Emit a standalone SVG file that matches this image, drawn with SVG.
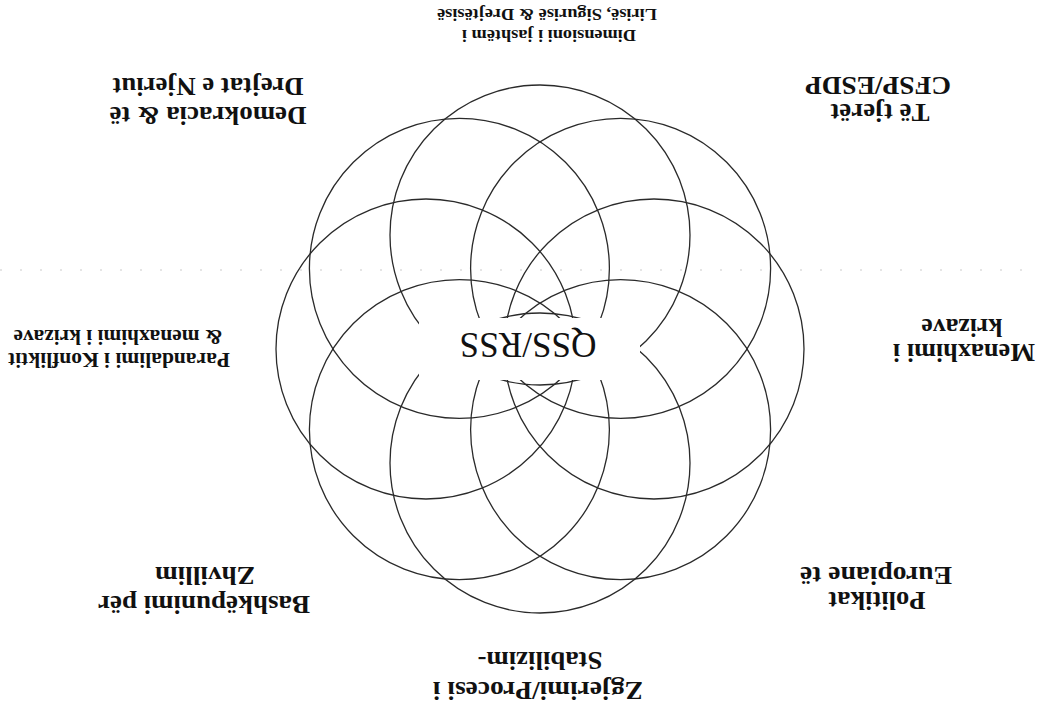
<svg xmlns="http://www.w3.org/2000/svg" width="1038" height="710" viewBox="0 0 1038 710">
<style>
.petal{fill:none;stroke:#2a2a2a;stroke-width:1.3}
.lbl{font-family:"Liberation Serif","Times New Roman",serif;font-weight:bold;fill:#111;text-anchor:middle}
.big{font-size:25px}
.mid{font-size:20.5px}
.sm{font-size:17px}
.core{font-family:"Liberation Serif","Times New Roman",serif;font-size:35px;fill:#111;text-anchor:middle}
</style>
<rect width="1038" height="710" fill="#fff"/>
<line x1="0" y1="270" x2="1038" y2="270" stroke="#aaa" stroke-width="1" stroke-dasharray="2 18" opacity="0.6"/>
<g id="petals">
<circle class="petal" cx="654" cy="349" r="150"/>
<circle class="petal" cx="620.6" cy="429.6" r="150"/>
<circle class="petal" cx="540" cy="463" r="150"/>
<circle class="petal" cx="459.4" cy="429.6" r="150"/>
<circle class="petal" cx="426" cy="349" r="150"/>
<circle class="petal" cx="459.4" cy="268.4" r="150"/>
<circle class="petal" cx="540" cy="235" r="150"/>
<circle class="petal" cx="620.6" cy="268.4" r="150"/>
</g>
<g id="connectors"/>
<g transform="rotate(180 519 355)">
<g id="core">
<rect x="398" y="330" width="221" height="62" fill="#fff"/>
<text class="core" x="510" y="377" textLength="137" lengthAdjust="spacingAndGlyphs">QSS/RSS</text>
</g>
<g id="n-dimensioni">
<text class="lbl sm" x="489" y="680" textLength="174" lengthAdjust="spacingAndGlyphs">Dimensioni i jashtëm i</text>
<text class="lbl sm" x="491" y="701" textLength="220" lengthAdjust="spacingAndGlyphs">Lirisë, Sigurisë &amp; Drejtësisë</text>
</g>
<g id="n-cfsp">
<text class="lbl big" x="158" y="606" textLength="99" lengthAdjust="spacingAndGlyphs">Të tjerët</text>
<text class="lbl big" x="160" y="633" textLength="146" lengthAdjust="spacingAndGlyphs">CFSP/ESDP</text>
</g>
<g id="n-demokracia">
<text class="lbl big" x="830" y="603" textLength="197" lengthAdjust="spacingAndGlyphs">Demokracia &amp; të</text>
<text class="lbl big" x="830" y="632" textLength="191" lengthAdjust="spacingAndGlyphs">Drejtat e Njeriut</text>
</g>
<g id="n-menaxhimi">
<text class="lbl big" x="74" y="366" textLength="142" lengthAdjust="spacingAndGlyphs">Menaxhimi i</text>
<text class="lbl big" x="76" y="391" textLength="81" lengthAdjust="spacingAndGlyphs">krizave</text>
</g>
<g id="n-parandalimi">
<text class="lbl mid" x="919" y="357" textLength="222" lengthAdjust="spacingAndGlyphs">Parandalimi i Konfliktit</text>
<text class="lbl mid" x="920" y="380" textLength="209" lengthAdjust="spacingAndGlyphs">&amp; menaxhimi i krizave</text>
</g>
<g id="n-politikat">
<text class="lbl big" x="161" y="118" textLength="97" lengthAdjust="spacingAndGlyphs">Politikat</text>
<text class="lbl big" x="162" y="143" textLength="152" lengthAdjust="spacingAndGlyphs">Europiane të</text>
</g>
<g id="n-zgjerimi">
<text class="lbl big" x="500" y="28" textLength="210" lengthAdjust="spacingAndGlyphs">Zgjerimi/Procesi i</text>
<text class="lbl big" x="498" y="58" textLength="125" lengthAdjust="spacingAndGlyphs">Stabilizim-</text>
</g>
<g id="n-bashkepunimi">
<text class="lbl big" x="834" y="114" textLength="212" lengthAdjust="spacingAndGlyphs">Bashkëpunimi për</text>
<text class="lbl big" x="833" y="143" textLength="100" lengthAdjust="spacingAndGlyphs">Zhvillim</text>
</g>
</g>
</svg>
